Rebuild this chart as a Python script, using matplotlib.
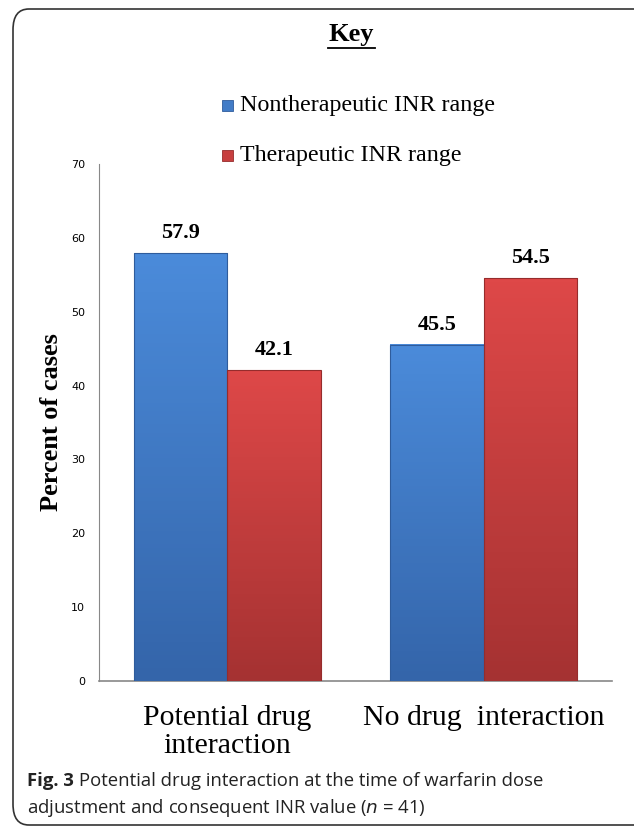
import matplotlib.pyplot as plt
import numpy as np
from matplotlib.patches import FancyBboxPatch
from matplotlib.colors import LinearSegmentedColormap

categories = ["Potential drug\ninteraction", "No drug  interaction"]
series = ["Nontherapeutic INR range", "Therapeutic INR range"]
nontherapeutic = [57.9, 45.5]
therapeutic = [42.1, 54.5]
yticks = [0, 10, 20, 30, 40, 50, 60, 70]

serif = ["Liberation Serif", "DejaVu Serif"]

fig = plt.figure(figsize=(6.34, 8.31), dpi=100)
W, H = 634, 831

# rounded frame, right side runs off the page
frame = FancyBboxPatch((13 / W, 6 / H), 640 / W, 816 / H, transform=fig.transFigure,
                       boxstyle="round,pad=0,rounding_size=0.025", fill=False,
                       edgecolor="#333333", linewidth=1.2, clip_on=False)
fig.patches.append(frame)

ax = fig.add_axes([99 / W, 1 - 681 / H, 513 / W, 517 / H])

cmaps = [LinearSegmentedColormap.from_list("b", ["#4b8bda", "#3465aa"]),
         LinearSegmentedColormap.from_list("r", ["#de4848", "#a53232"])]
edges = ["#2f5c9c", "#962c2c"]
width = 0.364
x = np.arange(len(categories))
for i, vals in enumerate([nontherapeutic, therapeutic]):
    offs = x + (i - 0.5) * width
    bars = ax.bar(offs, vals, width, color="none", edgecolor=edges[i], linewidth=0.8,
                  label=series[i], zorder=4)
    for b, v in zip(bars, vals):
        x0, w = b.get_x(), b.get_width()
        grad = np.linspace(0, 1, 100).reshape(-1, 1)
        ax.imshow(grad, cmap=cmaps[i], aspect="auto", origin="upper",
                  extent=(x0, x0 + w, 0, v), zorder=3)
        ax.text(x0 + w / 2, v + 1.4, f"{v}", ha="center", va="bottom",
                fontsize=16, fontweight="bold", family=serif)

ax.set_xlim(-0.5, 1.5)
ax.set_ylim(0, 70)
ax.set_yticks(yticks)
ax.set_yticklabels([str(t) for t in yticks], fontsize=8)
ax.set_xticks(x)
ax.set_xticklabels(categories, fontsize=21.5, family=serif, linespacing=1.1)
ax.tick_params(axis="y", length=0, pad=10)
ax.tick_params(axis="x", length=0, pad=17)
for s in ["top", "right"]:
    ax.spines[s].set_visible(False)
ax.spines["left"].set_color("#888888")
ax.spines["bottom"].set_color("#888888")
ax.spines["bottom"].set_linewidth(1.2)
ax.set_ylabel("Percent of cases", fontsize=19, fontweight="bold", family=serif)
ax.yaxis.set_label_coords(-(99 - 63) / 513, 0.5)

# key
fig.text(351 / W, 1 - 35 / H, "Key", ha="center", va="center", fontsize=19,
         fontweight="bold", family=serif)
fig.add_artist(plt.Line2D([328 / W, 375 / W], [1 - 48 / H, 1 - 48 / H],
                          color="black", linewidth=1.3))
leg_y = [105, 155]
for i, name in enumerate(series):
    y = 1 - leg_y[i] / H
    fig.patches.append(plt.Rectangle((222 / W, y - 5.5 / H), 11 / W, 11 / H,
                                     transform=fig.transFigure,
                                     facecolor=cmaps[i](0.4), edgecolor=edges[i],
                                     linewidth=0.6))
    fig.text(240 / W, y, name, ha="left", va="center", fontsize=17.3, family=serif)

# caption: bold label followed by the plain text
cap_font = dict(fontsize=13.3, va="center", family="Open Sans", color="#222222")
lab = fig.text(27 / W, 1 - 781 / H, "Fig. 3", fontweight="bold", **cap_font)
fig.canvas.draw()
bb = lab.get_window_extent()
fig.text((bb.x1 + 5) / W, 1 - 781 / H,
         "Potential drug interaction at the time of warfarin dose", **cap_font)
fig.text(27 / W, 1 - 808 / H, "adjustment and consequent INR value ($n$ = 41)", **cap_font)

fig.savefig("out.png", dpi=100)
